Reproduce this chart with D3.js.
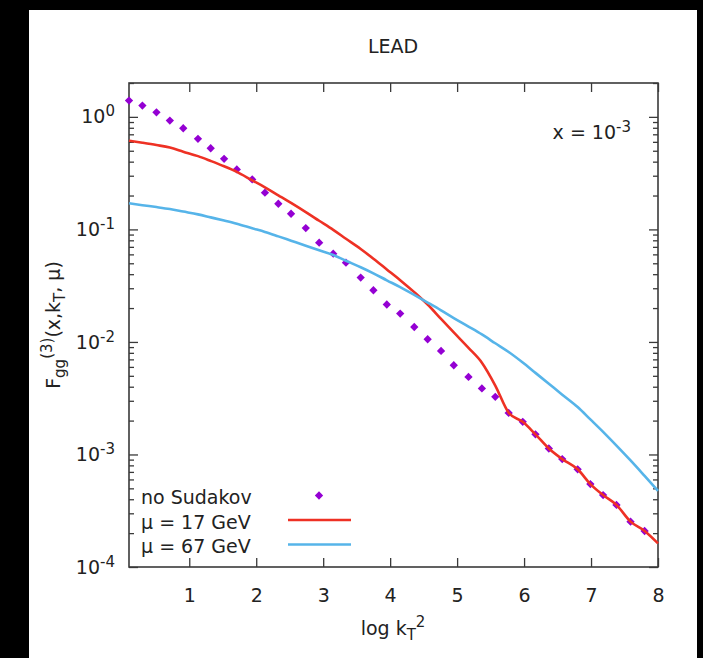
<!DOCTYPE html>
<html>
<head>
<meta charset="utf-8">
<script src="https://cdn.jsdelivr.net/npm/d3@7"></script>
<style>
  html, body { margin: 0; padding: 0; background: #000; }
  svg { display: block; }
  text { font-family: "DejaVu Sans", sans-serif; fill: #222; }
</style>
</head>
<body>
<svg id="chart" width="703" height="658"></svg>
<script>
// ---- data ----
const title = "LEAD";
const logKt2 = [0.10, 0.30, 0.51, 0.71, 0.91, 1.13, 1.32, 1.52, 1.71, 1.94,
                2.13, 2.33, 2.52, 2.74, 2.94, 3.15, 3.34, 3.56, 3.75, 3.95,
                4.15, 4.36, 4.56, 4.76, 4.95, 5.17, 5.37, 5.57, 5.77, 5.98,
                6.17, 6.37, 6.57, 6.80, 6.99, 7.18, 7.38, 7.59, 7.80, 8.00];
const noSudakov = [1.395, 1.26, 1.098, 0.927, 0.792, 0.638, 0.526, 0.424, 0.341, 0.278,
                   0.212, 0.169, 0.1378, 0.1027, 0.0762, 0.0609, 0.0506, 0.0373, 0.0288, 0.0215,
                   0.01786, 0.01358, 0.01057, 0.00832, 0.00621, 0.00489, 0.00386, 0.00325, 0.00234, 0.00195,
                   0.00151, 0.00113, 0.00091, 0.000738, 0.000546, 0.000436, 0.000356, 0.000253, 0.000209];
const mu17 = [0.614, 0.589, 0.562, 0.534, 0.491, 0.448, 0.406, 0.364, 0.3245, 0.2727,
              0.2367, 0.2011, 0.1721, 0.1426, 0.1193, 0.0990, 0.0825, 0.0669, 0.0549, 0.0441,
              0.0354, 0.0277, 0.0215, 0.0160, 0.01214, 0.00886, 0.00654, 0.0041, 0.00235, 0.00195,
              0.00151, 0.00113, 0.00091, 0.000738, 0.000546, 0.000436, 0.000356, 0.000253, 0.000209, 0.000162];
const mu67 = [0.1707, 0.1642, 0.1579, 0.1516, 0.1440, 0.1360, 0.1279, 0.1198, 0.1122, 0.1023,
              0.0949, 0.0867, 0.0794, 0.0717, 0.0652, 0.0593, 0.0527, 0.0461, 0.0407, 0.0353,
              0.0307, 0.0262, 0.0224, 0.0191, 0.0163, 0.0137, 0.01165, 0.00973, 0.00814, 0.00656,
              0.00531, 0.00425, 0.00340, 0.00264, 0.00205, 0.00159, 0.00120, 0.000886, 0.000645, 0.000474];
const xTicks = [1, 2, 3, 4, 5, 6, 7, 8];
const yTickExps = [0, -1, -2, -3, -4];
const seriesNames = ["no Sudakov", "μ = 17 GeV", "μ = 67 GeV"];
const colors = { noSud: "#9400d3", mu17: "#ee3124", mu67: "#56b4e9" };

// ---- layout ----
const svg = d3.select("#chart");
svg.append("rect").attr("x", 29).attr("y", 10).attr("width", 668).attr("height", 648).attr("fill", "#fff");

const L = 129, R = 658, T = 83, B = 567;
const x = d3.scaleLinear().domain([0.1, 8]).range([L, R]);
const y = d3.scaleLog().domain([1e-4, 2]).range([B, T]);

const axisColor = "#3a3a3a";
const majorY = yTickExps.map(e => Math.pow(10, e));
const minorY = [];
for (let e = -4; e <= 0; e++) for (let m = 2; m <= 9; m++) {
  const v = m * Math.pow(10, e);
  if (v <= 2) minorY.push(v);
}

function styleAxis(g) {
  g.select(".domain").remove();
  g.selectAll(".tick line").attr("stroke", axisColor).attr("stroke-width", 1.3);
}

// bottom axis
const gx = svg.append("g").attr("transform", `translate(0,${B})`)
  .call(d3.axisBottom(x).tickValues(xTicks).tickSizeInner(-9).tickSizeOuter(0).tickFormat(d3.format("d")));
styleAxis(gx);
gx.selectAll(".tick text").attr("y", 35).attr("dy", null)
  .attr("font-size", 19).attr("fill", "#222").attr("font-family", "DejaVu Sans");
// top axis (mirror ticks)
const gxt = svg.append("g").attr("transform", `translate(0,${T})`)
  .call(d3.axisTop(x).tickValues(xTicks).tickSizeInner(-9).tickSizeOuter(0).tickFormat(""));
styleAxis(gxt);

// left axis
const gy = svg.append("g").attr("transform", `translate(${L},0)`)
  .call(d3.axisLeft(y).tickValues(majorY).tickSizeInner(-9).tickSizeOuter(0).tickFormat(() => ""));
styleAxis(gy);
gy.selectAll(".tick text").each(function(d) {
  const t = d3.select(this);
  t.text(null).attr("x", -14).attr("dy", "0.32em").attr("font-size", 19)
    .attr("fill", "#222").attr("font-family", "DejaVu Sans").attr("text-anchor", "end");
  t.append("tspan").text("10");
  t.append("tspan").attr("dy", -7).attr("font-size", 15).text(String(Math.round(Math.log10(d))));
});
const gym = svg.append("g").attr("transform", `translate(${L},0)`)
  .call(d3.axisLeft(y).tickValues(minorY).tickSizeInner(-5).tickSizeOuter(0).tickFormat(""));
styleAxis(gym);
// right axis (mirror ticks)
const gyr = svg.append("g").attr("transform", `translate(${R},0)`)
  .call(d3.axisRight(y).tickValues(majorY).tickSizeInner(-9).tickSizeOuter(0).tickFormat(""));
styleAxis(gyr);
const gyrm = svg.append("g").attr("transform", `translate(${R},0)`)
  .call(d3.axisRight(y).tickValues(minorY).tickSizeInner(-5).tickSizeOuter(0).tickFormat(""));
styleAxis(gyrm);

// border
svg.append("rect").attr("x", L).attr("y", T).attr("width", R - L).attr("height", B - T)
  .attr("fill", "none").attr("stroke", axisColor).attr("stroke-width", 1.6);

// ---- data marks ----
const diamond = d3.symbol().type(d3.symbolDiamond2).size(44);
svg.append("g").selectAll("path").data(noSudakov).join("path")
  .attr("d", diamond)
  .attr("transform", (d, i) => `translate(${x(logKt2[i])},${y(d)})`)
  .attr("fill", colors.noSud);

const line = d3.line().x((d, i) => x(logKt2[i])).y(d => y(d)).curve(d3.curveMonotoneX);
svg.append("path").datum(mu17).attr("d", line).attr("fill", "none")
  .attr("stroke", colors.mu17).attr("stroke-width", 2.6).attr("stroke-linejoin", "round");
svg.append("path").datum(mu67).attr("d", line).attr("fill", "none")
  .attr("stroke", colors.mu67).attr("stroke-width", 2.6).attr("stroke-linejoin", "round");

// ---- legend ----
const leg = svg.append("g");
const legRows = [
  { name: seriesNames[0], type: "point", color: colors.noSud },
  { name: seriesNames[1], type: "line", color: colors.mu17 },
  { name: seriesNames[2], type: "line", color: colors.mu67 }
];
legRows.forEach((r, i) => {
  const by = 504 + i * 24.5;
  leg.append("text").attr("x", 141).attr("y", by).attr("font-size", 19).text(r.name);
  if (r.type === "point") {
    leg.append("path").attr("d", diamond).attr("transform", `translate(319,${by - 8.5})`).attr("fill", r.color);
  } else {
    leg.append("line").attr("x1", 288).attr("x2", 351).attr("y1", by - 8.5).attr("y2", by - 8.5)
      .attr("stroke", r.color).attr("stroke-width", 2.6);
  }
});

// ---- texts ----
svg.append("text").attr("x", 393).attr("y", 53).attr("text-anchor", "middle").attr("font-size", 19).text(title);

const xl = svg.append("text").attr("x", 631).attr("y", 139).attr("text-anchor", "end").attr("font-size", 19);
xl.append("tspan").text("x = 10");
xl.append("tspan").attr("dy", -7).attr("font-size", 15).text("-3");

const xlab = svg.append("text").attr("x", 393).attr("y", 635).attr("text-anchor", "middle").attr("font-size", 19);
xlab.append("tspan").text("log k");
xlab.append("tspan").attr("dy", 5).attr("font-size", 15).text("T");
xlab.append("tspan").attr("dy", -13).attr("font-size", 15).text("2");

const ylab = svg.append("text").attr("transform", "translate(60,325) rotate(-90)")
  .attr("text-anchor", "middle").attr("font-size", 19);
ylab.append("tspan").text("F");
ylab.append("tspan").attr("dy", 5).attr("font-size", 15).text("gg");
ylab.append("tspan").attr("dy", -13).attr("font-size", 15).text("(3)");
ylab.append("tspan").attr("dy", 8).text("(x,k");
ylab.append("tspan").attr("dy", 5).attr("font-size", 15).text("T");
ylab.append("tspan").attr("dy", -5).text(", μ)");
</script>
</body>
</html>
